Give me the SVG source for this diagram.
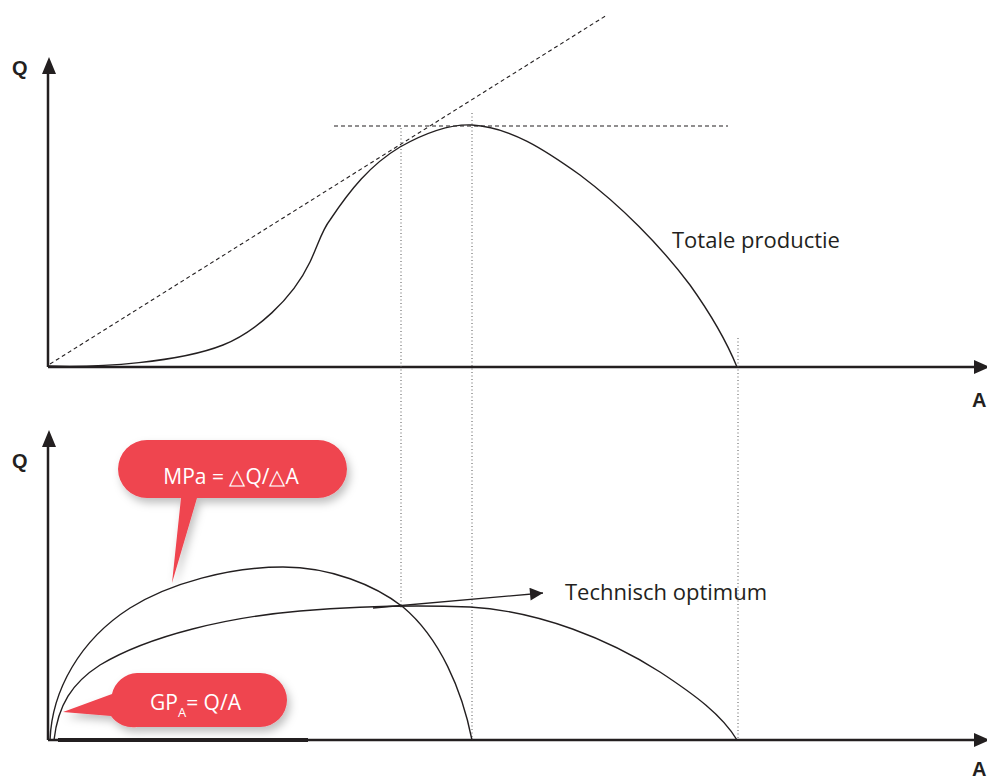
<svg xmlns="http://www.w3.org/2000/svg" width="987" height="779" viewBox="0 0 987 779">
<style>
.axis{stroke:#231f20;stroke-width:2.5;fill:none}
.curve{stroke:#231f20;stroke-width:1.4;fill:none}
.dash{stroke:#231f20;stroke-width:1.1;fill:none;stroke-dasharray:4 3}
.dot{stroke:#555;stroke-width:1;fill:none;stroke-dasharray:1 2.5}
.lbl{font-family:"Open Sans","Liberation Sans",sans-serif;font-size:22px;fill:#231f20}
.ax{font-family:"Liberation Sans",Arial,sans-serif;font-size:20px;font-weight:bold;fill:#231f20}
.call{fill:#ef4450;filter:url(#sh)}
.ct{font-family:"Open Sans","Liberation Sans",sans-serif;font-size:21px;fill:#fff}
</style>
<defs>
<filter id="sh" x="-20%" y="-30%" width="140%" height="170%">
<feDropShadow dx="3" dy="5" stdDeviation="4" flood-color="#000" flood-opacity="0.25"/>
</filter>
<marker id="ah" viewBox="0 0 10 10" refX="10" refY="5" markerWidth="17" markerHeight="13" markerUnits="userSpaceOnUse" orient="auto">
<path d="M0,0 L10,5 L0,10 Z" fill="#231f20"/>
</marker>
</defs>

<g id="top-axes">
<path class="axis" d="M48,367 V72 M48,367 H975"/>
<path d="M42,74 L49,57 L56,74 Z M974,360 L990,367 L974,374 Z" fill="#231f20"/>
<text class="ax" x="12" y="75">Q</text>
<text class="ax" x="972" y="407">A</text>
</g>

<g id="bottom-axes">
<path class="axis" d="M48,740 V447 M48,740 H975"/>
<path d="M42,447 L49,430 L56,447 Z M974,733 L990,740 L974,747 Z" fill="#231f20"/>
<text class="ax" x="12" y="468">Q</text>
<text class="ax" x="972" y="776">A</text>
<path d="M58,740 H308" stroke="#231f20" stroke-width="4"/>
</g>

<g id="guides">
<path class="dash" d="M50,364 L607,15"/>
<path class="dash" d="M334,126 H728"/>
<path class="dot" d="M401,128 V608"/>
<path class="dot" d="M472,113 V740"/>
<path class="dot" d="M738,338 V740"/>
</g>

<g id="total-production">
<path class="curve" d="M48,366 C100,368 180,362 223,345 C255,332 292,300 310,262 C318,245 322,230 330,220 C350,190 370,165 400,147 C425,133 450,124 472,125 C510,127 545,150 580,175 C620,205 660,245 690,285 C715,320 728,345 737,367"/>
<text class="lbl" x="672" y="248">Totale productie</text>
</g>

<g id="mpa-curve">
<path class="curve" d="M50,740 C52,690 80,640 130,608 C170,583 230,567 283,567 C330,567 375,585 403,607 C440,638 462,690 472,740"/>
</g>

<g id="gp-curve">
<path class="curve" d="M54,740 C58,705 72,683 100,665 C150,635 230,617 300,611 C360,606 420,605 470,607 C540,611 610,640 660,672 C695,695 722,715 737,740"/>
</g>

<g id="connectors">
<path class="curve" d="M373,608 L543,593" marker-end="url(#ah)"/>
</g>

<g id="technisch-optimum">
<text class="lbl" x="565" y="600">Technisch optimum</text>
</g>

<g id="callout-mpa">
<path class="call" d="M147,440 H318 A29,29 0 0 1 318,498 H197 L172,583 L181,498 H147 A29,29 0 0 1 147,440 Z"/>
<text class="ct" x="231" y="484" text-anchor="middle">MPa = △Q/△A</text>
</g>

<g id="callout-gp">
<path class="call" d="M137,673 H260 A27,27 0 0 1 260,727 H137 A27,27 0 0 1 111,716 L63,712 L112,694 A27,27 0 0 1 137,673 Z"/>
<text class="ct" x="150" y="710">GP<tspan font-size="13" dy="7">A</tspan><tspan dy="-7">= Q/A</tspan></text>
</g>
</svg>
